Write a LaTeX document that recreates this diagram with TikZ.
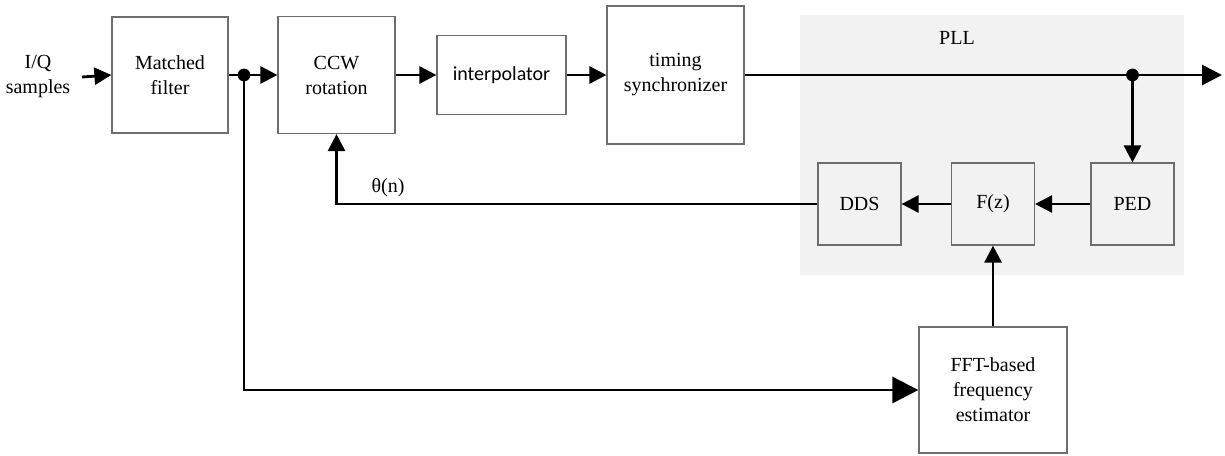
\documentclass[tikz,border=0pt]{standalone}
\usepackage{fontspec}
\setmainfont{Liberation Serif}
\newfontfamily\calibri{Carlito}
\usepackage{tikz}
\usetikzlibrary{arrows.meta}
\definecolor{pllgray}{RGB}{242,242,242}
\definecolor{edgegray}{RGB}{110,110,110}

\begin{document}
\begin{tikzpicture}[x=0.5pt,y=-0.5pt,
        blk/.style={draw=edgegray,line width=0.6pt,align=center,inner sep=0pt,font=\fontsize{10}{12.5}\selectfont},
        sig/.style={line width=1.4pt,-{Triangle[length=8.5pt,width=8.5pt]}},
        bigsig/.style={line width=1.4pt,-{Triangle[length=13pt,width=13pt]}}]
        \useasboundingbox (0,0) rectangle (1225,455);

        % PLL area
        \fill[pllgray] (800,15) rectangle (1184,275);
        \node[font=\fontsize{10}{12.5}\selectfont] (pll) at (957,38) {PLL};

        % Forward path
        \node[align=center,font=\fontsize{10}{12.5}\selectfont] (iq) at (38,77) {I/Q\\samples};
        \node[blk,minimum width=58pt,minimum height=58pt] (mf) at (170,75) {Matched\\filter};
        \node[blk,minimum width=58.5pt,minimum height=58.5pt] (ccw) at (336.5,75) {CCW\\rotation};
        \node[blk,minimum width=64.5pt,minimum height=39.5pt,font=\calibri\fontsize{10}{12.5}\selectfont] (ip) at (501.5,75) {interpolator};
        \node[blk,minimum width=68.5pt,minimum height=69pt] (ts) at (675.5,75) {timing\\synchronizer};

        % Loop blocks
        \node[blk,minimum width=41.5pt,minimum height=41pt] (dds) at (859.5,204) {DDS};
        \node[blk,minimum width=41.5pt,minimum height=41pt] (fz) at (993,204) {F(z)};
        \node[blk,minimum width=41.5pt,minimum height=41pt] (ped) at (1132.5,204) {PED};
        \node[blk,minimum width=74pt,minimum height=63pt] (fft) at (993,390) {FFT-based\\frequency\\estimator};

        \coordinate (in) at (82,77);    % input start
        \coordinate (br) at (244,75);   % branch to estimator
        \coordinate (tap) at (1132.5,75); % tap to PED
        \coordinate (out) at (1222,75); % output end

        \draw[sig] (in) -- (mf.west);
        \draw[line width=1.4pt] (mf.east) -- (br);
        \draw[sig] (br) -- (ccw.west);
        \draw[sig] (ccw.east) -- (ip.west);
        \draw[sig] (ip.east) -- (ts.west);
        \draw[line width=1.4pt,-{Triangle[length=10pt,width=10pt]}] (ts.east) -- (out);
        \fill (br) circle (3.2pt);
        \fill (tap) circle (3.2pt);

        % PLL loop
        \draw[sig] (tap) -- (ped.north);
        \draw[sig] (ped.west) -- (fz.east);
        \draw[sig] (fz.west) -- (dds.east);
        \draw[sig] (dds.west) -| (ccw.south);
        \node[font=\fontsize{10}{12.5}\selectfont] (theta) at (388,188) {θ(n)};

        % Estimator
        \draw[bigsig] (br) |- (fft.west);
        \draw[sig] (fft.north) -- (fz.south);
\end{tikzpicture}
\end{document}
